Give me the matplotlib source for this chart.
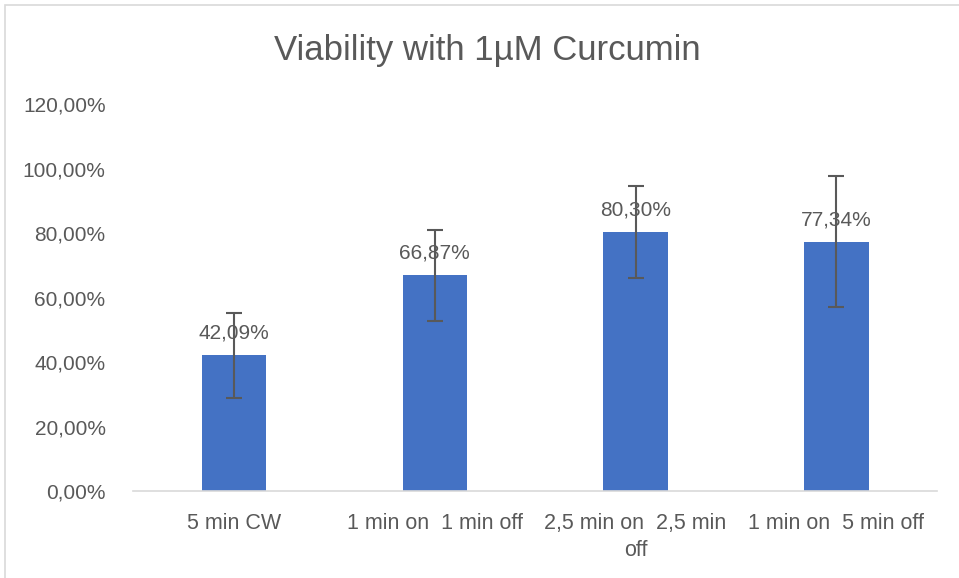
import numpy as np
import matplotlib.pyplot as plt
from matplotlib.patches import Rectangle
from matplotlib.ticker import FuncFormatter

# Data
categories = ["5 min CW", "1 min on  1 min off", "2,5 min on  2,5 min\noff", "1 min on  5 min off"]
viability = [42.09, 66.87, 80.30, 77.34]
errors = [13.1, 14.0, 14.2, 20.3]
yticks = [0, 20, 40, 60, 80, 100, 120]

TEXT = "#595959"
BAR = "#4472C4"

plt.rcParams['font.family'] = ['Liberation Sans', 'DejaVu Sans']

fig = plt.figure(figsize=(9.59, 5.78), dpi=100)
ax = fig.add_axes([0.139, 0.1505, 0.838, 0.6695])

x = np.arange(len(categories))
ax.bar(x, viability, width=0.32, color=BAR, zorder=2)
ax.errorbar(x, viability, yerr=errors, fmt='none', ecolor="#595959",
            elinewidth=1.5, capsize=6, capthick=1.5, zorder=3)

# data labels
for xi, v in zip(x, viability):
    ax.annotate(("%.2f%%" % v).replace('.', ','), (xi, v), xytext=(0, 9),
                textcoords='offset points', ha='center', va='bottom',
                fontsize=15, color=TEXT, zorder=4)

ax.set_xlim(-0.5, len(categories) - 0.5)
ax.set_ylim(0, 120)
ax.set_yticks(yticks)
ax.yaxis.set_major_formatter(FuncFormatter(lambda v, p: ("%.2f%%" % v).replace('.', ',')))
ax.set_xticks(x)
ax.set_xticklabels(categories, fontsize=15.5, color=TEXT, linespacing=1.35)
ax.tick_params(axis='y', length=0, pad=20, labelsize=15, labelcolor=TEXT)
ax.tick_params(axis='x', length=0, pad=16)

for s in ['top', 'right', 'left']:
    ax.spines[s].set_visible(False)
ax.spines['bottom'].set_color("#D9D9D9")
ax.spines['bottom'].set_linewidth(1.2)

fig.text(0.508, 0.912, "Viability with 1µM Curcumin", ha='center', va='center',
         fontsize=25, color=TEXT)

# chart border
fig.patches.append(Rectangle((5 / 959, -0.1), 1.2, 1.1 - 5 / 578, transform=fig.transFigure,
                             fill=False, edgecolor="#D9D9D9", linewidth=1.2))

fig.savefig("out.png", dpi=100)
